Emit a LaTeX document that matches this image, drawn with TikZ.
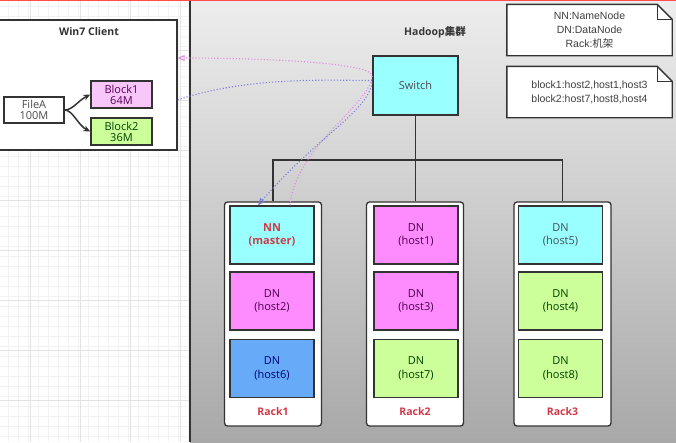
\documentclass[tikz,border=0pt]{standalone}
\usepackage{fontspec}
\setmainfont{Open Sans}
\newfontfamily\cjk{Noto Sans CJK SC}
\newfontfamily\arial{Liberation Sans}
\usetikzlibrary{arrows.meta,calc}
\definecolor{cyanF}{HTML}{99FFFF}
\definecolor{pinkF}{HTML}{FF8CFF}
\definecolor{greenF}{HTML}{CCFF99}
\definecolor{blueF}{HTML}{66AAF8}
\definecolor{blockPink}{HTML}{F8C6F8}
\definecolor{lineC}{HTML}{333333}
\definecolor{redT}{HTML}{D03A48}
\definecolor{pinkDot}{HTML}{E08CE0}
\definecolor{blueDot}{HTML}{7C7CE0}
\definecolor{clTop}{HTML}{EDEDED}
\definecolor{clBot}{HTML}{A8A8A8}
\begin{document}
\begin{tikzpicture}[x=1pt,y=-1pt,
  boxtext/.style={font=\fontsize{11}{13.5}\selectfont, align=center},
  rackbox/.style={draw=lineC, line width=1.3pt, fill=white, rounded corners=3pt,
    minimum width=97pt, minimum height=224pt, inner sep=0pt},
  hostbox/.style={boxtext, draw=lineC, line width=1.5pt, minimum width=84pt,
    minimum height=58pt, inner sep=0pt},
  racklabel/.style={font=\fontsize{10.5}{12}\selectfont\bfseries, text=redT},
  blockbox/.style={boxtext, draw=lineC, line width=1.4pt, minimum width=61pt,
    minimum height=27pt, inner sep=0pt},
  notebox/.style={font=\arial\fontsize{10.5}{14}\selectfont, text=black!75, align=center,
    minimum width=165pt, minimum height=51pt, inner sep=0pt},
  conn/.style={draw=lineC, line width=1.3pt},
  pinkpath/.style={draw=pinkDot, line width=1.1pt, dotted, -{Triangle[open,length=7pt,width=6pt]}},
  bluepath/.style={draw=blueDot, line width=1.1pt, dotted, -{Triangle[open,length=7pt,width=6pt]}}
]
\useasboundingbox (0,0) rectangle (676,442);
% left white area with grid
\fill[white] (0,0) rectangle (190,442);
\foreach \x in {8,18,...,188} \draw[black!5, line width=0.5pt] (\x,0) -- (\x,442);
\foreach \y in {6,16,...,442} \draw[black!5, line width=0.5pt] (0,\y) -- (190,\y);
\foreach \x in {30,80,130,180} \draw[black!11, line width=0.6pt] (\x,0) -- (\x,442);
\foreach \y in {50,100,...,442} \draw[black!11, line width=0.6pt] (0,\y) -- (190,\y);
% cluster area
\shade[top color=clTop, bottom color=clBot] (190,0) rectangle (676,442);
\draw[lineC, line width=1.6pt] (190,0) -- (190,442);
\draw[red!70, line width=1.4pt] (0,0.7) -- (676,0.7);

% Win7 client
\node[draw=lineC, line width=1.4pt, fill=white, minimum width=187pt, minimum height=130pt, inner sep=0pt] (win) at (83.5,85) {};
\node[font=\fontsize{10.5}{12}\selectfont\bfseries, text=black!80] (wintitle) at (89,32) {Win7 Client};
\node[boxtext, draw=lineC, line width=1.4pt, fill=white, text=black!70, minimum width=60pt, minimum height=26pt, inner sep=0pt] (fa) at (34,110) {FileA\\[-2.5pt]100M};
\node[blockbox, fill=blockPink, text=violet!70!black] (b1) at (121.5,94.5) {Block1\\[-2.5pt]64M};
\node[blockbox, fill=greenF, text=green!25!black] (b2) at (121.5,131.5) {Block2\\[-2.5pt]36M};
\draw[lineC, line width=1.5pt, -{Stealth[length=7pt,width=6pt]}] (fa.east) .. controls +(8,0) and +(-12,6) .. (b1.west);
\draw[lineC, line width=1.5pt, -{Stealth[length=7pt,width=6pt]}] (fa.east) .. controls +(8,0) and +(-12,-6) .. (b2.west);

% title
\node[font=\fontsize{10.5}{12}\selectfont\bfseries, text=black!78] (htitle) at (435,32) {Hadoop{\cjk\bfseries 集群}};

% switch
\node[boxtext, draw=lineC, line width=1.5pt, fill=cyanF, text=black!70, minimum width=85pt, minimum height=59pt, inner sep=0pt] (sw) at (415.5,85.5) {Switch};

% racks
\node[rackbox] (r1) at (273,314) {};
\node[rackbox] (r2) at (415,314) {};
\node[rackbox] (r3) at (562.5,314) {};
\node[racklabel] (l1) at (273,412) {Rack1};
\node[racklabel] (l2) at (415,412) {Rack2};
\node[racklabel] (l3) at (562.5,412) {Rack3};

\node[hostbox, fill=cyanF, text=redT, font=\fontsize{11}{13.5}\selectfont\bfseries] (nn) at (272,235) {NN\\(master)};
\node[hostbox, fill=pinkF, text=violet!60!black] (h2) at (272,301) {DN\\(host2)};
\node[hostbox, fill=blueF, text=blue!45!black] (h6) at (272,368.5) {DN\\(host6)};

\node[hostbox, fill=pinkF, text=violet!60!black] (h1) at (416,235) {DN\\(host1)};
\node[hostbox, fill=pinkF, text=violet!60!black] (h3) at (416,301) {DN\\(host3)};
\node[hostbox, fill=greenF, text=green!25!black] (h7) at (416,368.5) {DN\\(host7)};

\node[hostbox, fill=cyanF, text=cyan!25!black] (h5) at (560.5,235) {DN\\(host5)};
\node[hostbox, fill=greenF, text=green!25!black] (h4) at (560.5,301) {DN\\(host4)};
\node[hostbox, fill=greenF, text=green!25!black] (h8) at (560.5,368.5) {DN\\(host8)};

% connectors
\draw[conn] (sw.south) -- (sw.south |- 0,160) coordinate (bus);
\draw[conn] (r1.north) -- (r1.north |- bus) -| (r3.north);
\draw[conn] (bus) -- (r2.north -| bus);

% notes
\node[notebox] (n1) at (589.5,30) {NN:NameNode\\DN:DataNode\\Rack:{\cjk 机架}};
\node[notebox] (n2) at (589.5,92) {block1:host2,host1,host3\\block2:host7,host8,host4};
\foreach \n in {n1,n2}{
  \draw[lineC, line width=1.4pt, fill=white] (\n.north west) -- ([xshift=-15pt]\n.north east) -- ([yshift=-15pt]\n.north east) -- (\n.south east) -- (\n.south west) -- cycle;
  \draw[lineC, line width=1.2pt] ([xshift=-15pt]\n.north east) -- ([xshift=-15pt,yshift=-15pt]\n.north east) -- ([yshift=-15pt]\n.north east);
}
\node[notebox] at (n1) {NN:NameNode\\DN:DataNode\\Rack:{\cjk 机架}};
\node[notebox] at (n2) {block1:host2,host1,host3\\block2:host7,host8,host4};

% dotted message paths
\draw[pinkpath] ([xshift=18pt]nn.north) .. controls +(6,-60) and +(-2,30) .. ([yshift=10pt]sw.west)
   .. controls +(-3,-14) and +(70,0) .. ([yshift=27pt]win.east);
\draw[bluepath] ([yshift=-15pt]win.east) .. controls +(70,-24) and +(-40,0) .. ([yshift=5pt]sw.west)
   .. controls +(-2,30) and +(60,-70) .. ([xshift=-14pt]nn.north);
\end{tikzpicture}
\end{document}
